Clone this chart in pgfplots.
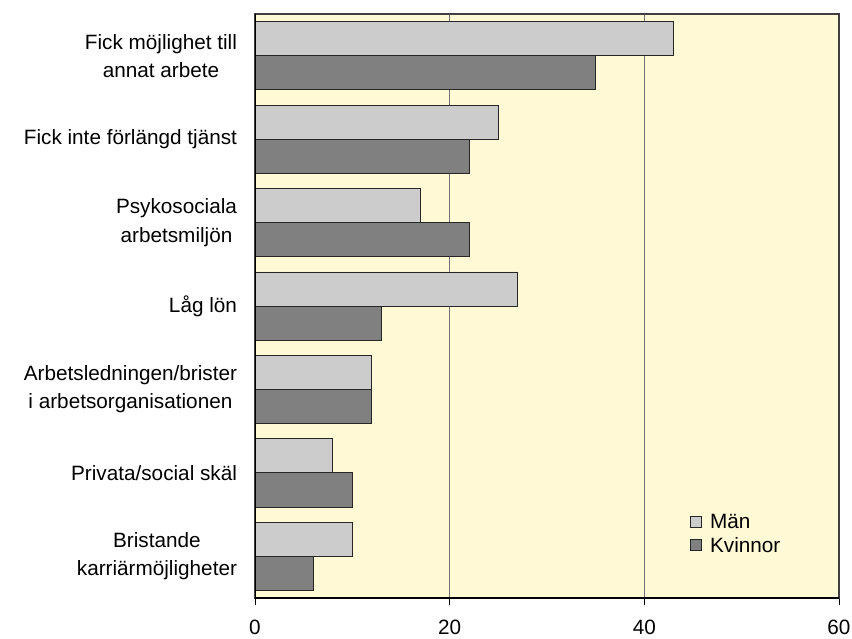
\documentclass[border=0pt]{standalone}
\usepackage{fontspec}
\setmainfont{Liberation Sans}
\usepackage{pgfplots}
\pgfplotsset{compat=1.18}
\definecolor{bgyellow}{HTML}{FFF9D6}
\definecolor{manfill}{HTML}{CCCCCC}
\definecolor{kvfill}{HTML}{808080}
\begin{document}
\begin{tikzpicture}
\useasboundingbox (0,0) rectangle (852bp,639bp);
\begin{axis}[
  at={(255bp,41bp)}, anchor=south west,
  width=584bp, height=584bp, scale only axis,
  xbar, bar width=0.408,
  xmin=0, xmax=60, ymin=-0.5, ymax=6.5, y dir=reverse,
  xtick={0,20,40,60}, ytick={0,1,2,3,4,5,6},
  yticklabels={{Fick möjlighet till\\annat arbete},{Fick inte förlängd tjänst},{Psykosociala\\arbetsmiljön},{Låg lön},{Arbetsledningen/brister\\i arbetsorganisationen},{Privata/social skäl},{Bristande\\karriärmöjligheter}},
  tick pos=left, tick align=outside,
  major tick length=6.5bp,
  xtick style={draw=black, line width=1bp},
  ytick style={draw=none},
  xmajorgrids, grid style={draw=black!55, line width=0.8bp},
  axis background/.style={fill=bgyellow},
  axis line style={draw=black!75, line width=1.2bp},
  tick label style={font=\fontsize{20.8}{28.3}\selectfont},
  yticklabel style={align=center, xshift=-8bp},
  xticklabel style={yshift=-12.5bp},
  /pgf/number format/assume math mode=true,
  legend style={draw=none, fill=none, at={(0.745,0.147)}, anchor=north west,
    font=\fontsize{20.8}{24}\selectfont, inner sep=0pt, row sep=3bp, column sep=6bp},
  legend cell align=left,
  legend image code/.code={\draw[#1, line width=0.8bp] (0bp,-5.5bp) rectangle (11bp,5.5bp);},
]
\addplot[fill=manfill, draw=black!85, line width=0.8bp, bar shift=-0.204]
  coordinates {(43,0) (25,1) (17,2) (27,3) (12,4) (8,5) (10,6)};
\addlegendentry{Män}
\addplot[fill=kvfill, draw=black!85, line width=0.8bp, bar shift=0.204]
  coordinates {(35,0) (22,1) (22,2) (13,3) (12,4) (10,5) (6,6)};
\addlegendentry{Kvinnor}
\draw[black, line width=1.5bp] (axis description cs:0,1) -- (axis description cs:0,0) -- (axis description cs:1,0);
\end{axis}
\end{tikzpicture}
\end{document}
